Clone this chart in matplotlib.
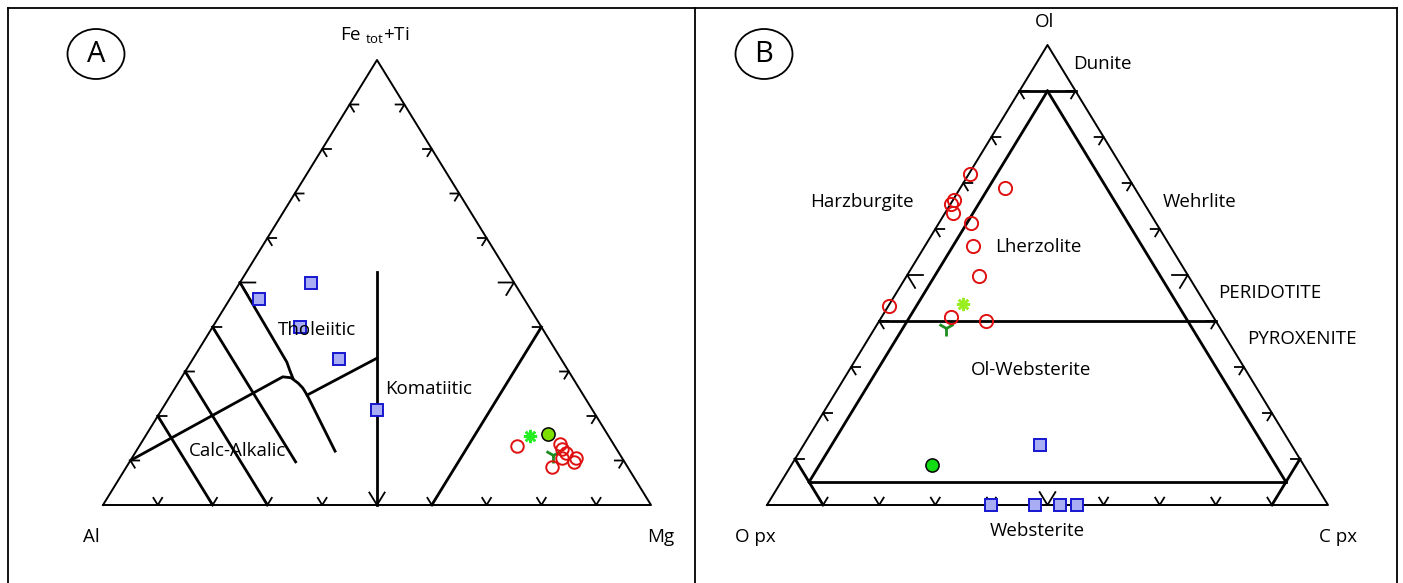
import matplotlib.pyplot as plt
from matplotlib.patches import Ellipse
from matplotlib.lines import Line2D

plt.rcParams['font.family'] = ['Open Sans', 'DejaVu Sans']
plt.rcParams['mathtext.fontset'] = 'custom'
plt.rcParams['mathtext.rm'] = 'Open Sans'

W, H = 1403, 583

# Panel A - Jensen cation plot, points as (Al, Fe+Ti, Mg) in %
a_squares = [(37.1, 49.9, 13.0), (48.4, 46.3, 5.3), (44.0, 40.0, 16.0),
             (40.5, 32.8, 26.7), (39.3, 21.4, 39.3)]
a_circles = [(17.8, 13.3, 68.9), (9.7, 13.7, 76.6), (10.0, 12.6, 77.4),
             (9.7, 11.7, 78.6), (11.0, 10.6, 78.4), (8.3, 10.6, 81.1),
             (9.2, 9.7, 81.1), (13.8, 8.5, 77.7)]
a_dot = [(10.8, 16.0, 73.2)]
a_star = [(14.3, 15.5, 70.2)]
a_tri = [(12.3, 11.2, 76.5)]

# field boundaries (Al, Fe+Ti, Mg)
a_lines = [
    [(80, 20, 0), (80, 0, 20)],
    [(70, 30, 0), (70, 0, 30)],
    [(60, 40, 0), (60, 9.7, 30.3)],
    [(50, 50, 0), (50.4, 32.1, 17.5), (50.8, 30.2, 19.0), (51.1, 28.5, 20.4)],
    [(90, 10, 0), (52.8, 28.8, 18.4), (51.4, 28.6, 20.0), (50.7, 27.4, 21.9),
     (50.4, 26.3, 23.3), (50.4, 24.7, 24.9), (51.6, 12.1, 36.3)],
    [(50.4, 24.7, 24.9), (33.5, 33.0, 33.5)],
    [(23.8, 52.4, 23.8), (50, 0, 50)],
    [(0, 40, 60), (40, 0, 60)],
]

# Panel B - ultramafic classification, points as (Opx, Ol, Cpx) in %
b_circles = [(27.8, 72.0, 0.2), (23.1, 68.9, 8.0), (33.5, 66.3, 0.2),
             (34.5, 65.4, 0.1), (35.1, 63.5, 1.4), (33.0, 61.3, 5.7),
             (35.1, 56.3, 8.6), (37.3, 49.8, 12.9), (56.6, 43.3, 0.1),
             (46.8, 40.9, 12.3), (41.0, 40.0, 19.0)]
b_squares = [(44.8, 13.0, 42.2), (60.1, 0.0, 39.9), (52.2, 0.0, 47.8),
             (47.8, 0.0, 52.2), (44.7, 0.0, 55.3)]
b_dot = [(66.2, 8.7, 25.1)]
b_star = [(43.2, 43.7, 13.1)]
b_tri = [(48.8, 38.5, 12.7)]

# field boundaries (Opx, Ol, Cpx)
b_lines = [
    [(10, 90, 0), (0, 90, 10)],
    [(5, 90, 5), (90, 5, 5)],
    [(5, 90, 5), (5, 5, 90)],
    [(60, 40, 0), (0, 40, 60)],
    [(90, 5, 5), (5, 5, 90)],
    [(90, 10, 0), (90, 0, 10)],
    [(0, 10, 90), (10, 0, 90)],
]


def to_xy(pts):
    xs = [(r + t / 2) / 100 for l, t, r in pts]
    ys = [t / 100 for l, t, r in pts]
    return xs, ys


def make_axes(fig, left, bottom, right, top):
    ax = fig.add_axes([left / W, 1 - bottom / H, (right - left) / W, (bottom - top) / H])
    ax.set_xlim(0, 1)
    ax.set_ylim(0, 1)
    ax.axis('off')
    return ax


def draw_frame(ax):
    xs, ys = to_xy([(100, 0, 0), (0, 100, 0), (0, 0, 100), (100, 0, 0)])
    ax.plot(xs, ys, color='k', lw=1.4, clip_on=False)
    for k in range(1, 10):
        f = k * 10
        d = 2.8 if k == 5 else 1.6
        chevrons = [
            [(100 - f - d, f, d), (100 - f, f, 0), (100 - f, f - d, d)],
            [(d, f, 100 - f - d), (0, f, 100 - f), (d, f - d, 100 - f)],
            [(100 - f, d, f - d), (100 - f, 0, f), (100 - f - d, d, f)],
        ]
        for c in chevrons:
            xs, ys = to_xy(c)
            ax.plot(xs, ys, color='k', lw=1.3, clip_on=False)


def draw_points(ax, circles, squares, dot, star, tri, dot_color, star_color, ms):
    xs, ys = to_xy(squares)
    ax.plot(xs, ys, 's', ms=8, mfc='#a9aef4', mec='#1616d0', mew=1.4, clip_on=False)
    xs, ys = to_xy(dot)
    ax.plot(xs, ys, 'o', ms=9.5, mfc=dot_color, mec='k', mew=1.1, clip_on=False)
    xs, ys = to_xy(star)
    ax.plot(xs, ys, marker=(8, 2, 0), ls='none', ms=9.5, mec=star_color, mew=1.8, clip_on=False)
    xs, ys = to_xy(tri)
    ax.plot(xs, ys, '1', ms=12, mec='#1e8c1e', mew=2.0, clip_on=False)
    xs, ys = to_xy(circles)
    ax.plot(xs, ys, 'o', ms=ms, mfc='none', mec='#e01010', mew=1.4, clip_on=False)


def label(fig, px, py, s, size=13.5):
    fig.text(px / W, 1 - py / H, s, ha='center', va='center', fontsize=size)


fig = plt.figure(figsize=(W / 100, H / 100), dpi=100)

# panel A
ax_a = make_axes(fig, 103, 505, 651, 60)
draw_frame(ax_a)
for seg in a_lines:
    xs, ys = to_xy(seg)
    ax_a.plot(xs, ys, color='k', lw=2.0, clip_on=False, solid_joinstyle='round')
draw_points(ax_a, a_circles, a_squares, a_dot, a_star, a_tri, '#7ee000', '#22ee22', 9)

label(fig, 375, 36, r'Fe $_{\mathrm{tot}}$+Ti')
label(fig, 91, 537, 'Al')
label(fig, 661, 537, 'Mg')
label(fig, 317, 330, 'Tholeiitic')
label(fig, 429, 389, 'Komatiitic')
label(fig, 238, 451, 'Calc-Alkalic')

# panel B
ax_b = make_axes(fig, 767, 505, 1328, 45)
draw_frame(ax_b)
for seg in b_lines:
    xs, ys = to_xy(seg)
    ax_b.plot(xs, ys, color='k', lw=2.0, clip_on=False)
draw_points(ax_b, b_circles, b_squares, b_dot, b_star, b_tri, '#12dd12', '#99ee22', 9.5)

label(fig, 1045, 22, 'Ol')
label(fig, 1102, 64, 'Dunite')
label(fig, 862, 202, 'Harzburgite')
label(fig, 1200, 202, 'Wehrlite')
label(fig, 1038, 247, 'Lherzolite')
label(fig, 1270, 293, 'PERIDOTITE')
label(fig, 1302, 339, 'PYROXENITE')
label(fig, 1031, 370, 'Ol-Websterite')
label(fig, 1037, 531, 'Websterite')
label(fig, 755, 537, 'O px')
label(fig, 1338, 537, 'C px')

# panel letters in ellipses
for cx, letter in [(96, 'A'), (764, 'B')]:
    fig.add_artist(Ellipse((cx / W, 1 - 54 / H), 57 / W, 50 / H,
                           transform=fig.transFigure, fill=False, ec='k', lw=1.3))
    label(fig, cx, 54, letter, size=21)

# outer frame and divider
for x0, y0, x1, y1 in [(8, 8, 8, H), (8, 8, 1397, 8), (695, 8, 695, H), (1397, 8, 1397, H)]:
    fig.add_artist(Line2D([x0 / W, x1 / W], [1 - y0 / H, 1 - y1 / H],
                          transform=fig.transFigure, color='k', lw=1.3))

fig.savefig('out.png', dpi=100)
